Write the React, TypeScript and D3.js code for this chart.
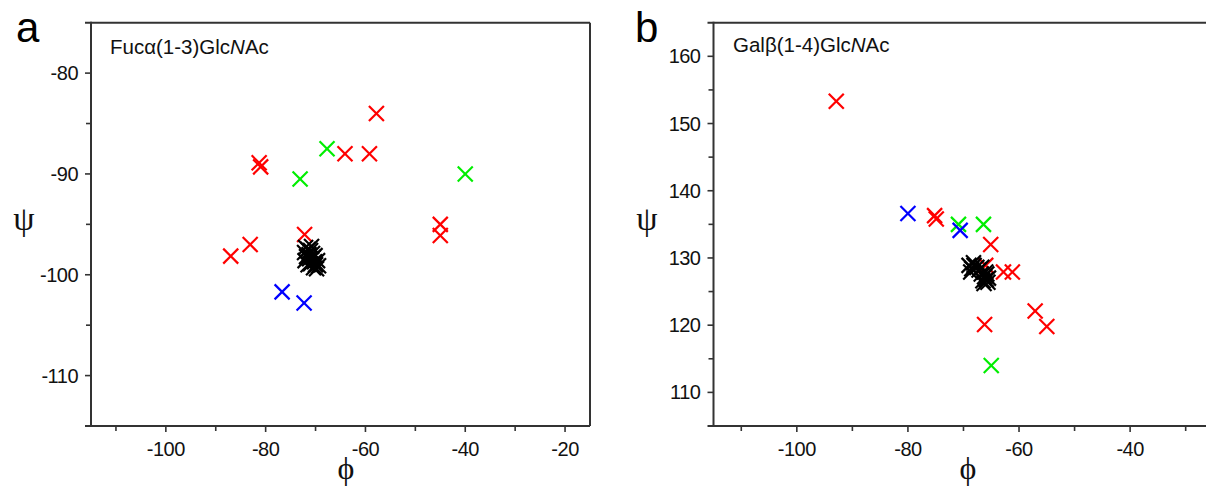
import React from "react";
import * as d3 from "d3";

// ---------- data: [phi, psi] ----------
const aRed: [number, number][] = [
  [-57.8, -84.0], [-64.1, -88.0], [-59.2, -88.0], [-81.3, -88.9], [-81.0, -89.3],
  [-72.2, -96.0], [-83.1, -97.0], [-87.0, -98.15], [-45.0, -95.0], [-45.0, -96.1],
];
const aGreen: [number, number][] = [[-67.7, -87.5], [-73.1, -90.5], [-40.0, -90.0]];
const aBlue: [number, number][] = [[-76.7, -101.7], [-72.3, -102.8]];
const aBlack: [number, number][] = [
  [-72.0, -97.3], [-71.5, -97.5], [-72.2, -97.8], [-71.0, -97.6], [-70.6, -97.9],
  [-71.8, -98.2], [-71.2, -98.4], [-70.5, -98.3], [-72.1, -98.6], [-70.2, -98.7],
  [-71.0, -98.9], [-70.0, -99.0], [-69.6, -98.6], [-69.4, -99.1], [-70.4, -99.3],
  [-69.8, -99.4], [-71.5, -99.0], [-70.8, -97.2], [-71.3, -98.0], [-70.1, -98.1],
];

const bRed: [number, number][] = [
  [-92.9, 153.3], [-75.2, 136.3], [-74.9, 135.8], [-65.1, 132.0], [-66.0, 128.9],
  [-62.8, 127.9], [-61.2, 127.9], [-66.2, 120.1], [-57.1, 122.1], [-55.0, 119.8],
];
const bGreen: [number, number][] = [[-70.9, 135.0], [-66.4, 135.0], [-65.0, 114.0]];
const bBlue: [number, number][] = [[-80.0, 136.6], [-70.6, 134.1]];
const bBlack: [number, number][] = [
  [-69.0, 128.9], [-68.5, 128.4], [-68.1, 128.9], [-68.7, 127.9], [-67.6, 128.6],
  [-68.2, 129.3], [-67.2, 128.2], [-66.8, 127.6], [-66.2, 127.2], [-65.8, 127.6],
  [-66.5, 126.6], [-65.9, 126.8], [-66.0, 127.9], [-65.5, 127.0], [-66.7, 128.6],
  [-66.3, 126.2], [-65.6, 126.4],
];

const aXTicks = [-100, -80, -60, -40, -20];
const aXMinor = [-110, -90, -70, -50, -30];
const aYTicks = [-80, -90, -100, -110];
const aYMinor = [-85, -95, -105];
const bXTicks = [-100, -80, -60, -40];
const bXMinor = [-110, -90, -70, -50, -30];
const bYTicks = [110, 120, 130, 140, 150, 160];
const bYMinor = [115, 125, 135, 145, 155];

const COLORS = { red: "#ff0000", green: "#00ee00", blue: "#0000ff", black: "#000000" };
const FRAME = "#333333";
const SANS = "Liberation Sans, Arial, Helvetica, sans-serif";
const SERIF = "Liberation Serif, DejaVu Serif, Times New Roman, serif";

type PanelProps = {
  xDomain: [number, number];
  xRange: [number, number];
  yDomain: [number, number];
  yRange: [number, number];
  clipRight: number;
  xTicks: number[];
  xMinor: number[];
  yTicks: number[];
  yMinor: number[];
  series: { pts: [number, number][]; color: string }[];
  letter: string;
  letterX: number;
  title: React.ReactNode;
  titleX: number;
  titleY: number;
  psiX: number;
  phiX: number;
  showRight: boolean;
};

function Cross({ x, y, color }: { x: number; y: number; color: string }) {
  const h = 7.5;
  return (
    <g stroke={color} strokeWidth={2.2}>
      <line x1={x - h} y1={y - h} x2={x + h} y2={y + h} />
      <line x1={x - h} y1={y + h} x2={x + h} y2={y - h} />
    </g>
  );
}

function Panel(p: PanelProps) {
  const x = d3.scaleLinear().domain(p.xDomain).range(p.xRange);
  const y = d3.scaleLinear().domain(p.yDomain).range(p.yRange);
  const [x0, x1] = p.xRange;
  const [y0, y1] = p.yRange; // y0 bottom, y1 top
  const right = Math.min(x1, p.clipRight);
  return (
    <g>
      <g stroke={FRAME} strokeWidth={2} fill="none">
        <line x1={x0 - 6} y1={y0} x2={right} y2={y0} />
        <line x1={x0} y1={y0} x2={x0} y2={y1 - 1} />
        <line x1={x0 - 6} y1={y1} x2={right} y2={y1} />
        {p.showRight && <line x1={x1} y1={y0} x2={x1} y2={y1} />}
      </g>
      <g stroke={FRAME} strokeWidth={1.6}>
        {p.xTicks.filter((t) => x(t) <= right).map((t) => (
          <line key={"xt" + t} x1={x(t)} x2={x(t)} y1={y0} y2={y0 + 6} />
        ))}
        {p.xMinor.filter((t) => x(t) <= right).map((t) => (
          <line key={"xm" + t} x1={x(t)} x2={x(t)} y1={y0} y2={y0 + 5} />
        ))}
        {p.yTicks.map((t) => (
          <line key={"yt" + t} x1={x0 - 6} x2={x0} y1={y(t)} y2={y(t)} />
        ))}
        {p.yMinor.map((t) => (
          <line key={"ym" + t} x1={x0 - 5} x2={x0} y1={y(t)} y2={y(t)} />
        ))}
      </g>
      <g fontFamily={SANS} fontSize={20} fill="#111">
        {p.xTicks.filter((t) => x(t) <= right).map((t) => (
          <text key={"xl" + t} x={x(t)} y={y0 + 29.5} textAnchor="middle" letterSpacing={-0.5}>
            {t}
          </text>
        ))}
        {p.yTicks.map((t) => (
          <text key={"yl" + t} x={x0 - 13} y={y(t) + 7} textAnchor="end" letterSpacing={-0.5}>
            {t}
          </text>
        ))}
      </g>
      {p.series.map((s, i) => (
        <g key={i}>
          {s.pts.map(([a, b], j) => (
            <Cross key={j} x={x(a)} y={y(b)} color={s.color} />
          ))}
        </g>
      ))}
      <text x={p.letterX} y={42} fontFamily={SANS} fontSize={42} fill="#000">
        {p.letter}
      </text>
      <text x={p.titleX} y={p.titleY} fontFamily={SANS} fontSize={20.5} fill="#111">
        {p.title}
      </text>
      <text x={p.psiX} y={230} fontFamily={SERIF} fontSize={34} textAnchor="middle" fill="#111">
        ψ
      </text>
      <text x={p.phiX} y={479} fontFamily={SERIF} fontSize={32} textAnchor="middle" fill="#111">
        ϕ
      </text>
    </g>
  );
}

export default function App() {
  const W = 1206;
  const H = 489;
  return (
    <svg
      width={W}
      height={H}
      viewBox={`0 0 ${W} ${H}`}
      style={{ position: "absolute", left: 0, top: 0, background: "#fff" }}
    >
      <rect width={W} height={H} fill="#fff" />
      <Panel
        xDomain={[-115, -15]}
        xRange={[91, 590]}
        yDomain={[-115, -75]}
        yRange={[426, 22.7]}
        clipRight={590}
        xTicks={aXTicks}
        xMinor={aXMinor}
        yTicks={aYTicks}
        yMinor={aYMinor}
        series={[
          { pts: aRed, color: COLORS.red },
          { pts: aGreen, color: COLORS.green },
          { pts: aBlue, color: COLORS.blue },
          { pts: aBlack, color: COLORS.black },
        ]}
        letter="a"
        letterX={16}
        title={
          <>
            Fucα(1-3)Glc<tspan fontStyle="italic">N</tspan>Ac
          </>
        }
        titleX={110}
        titleY={54}
        psiX={24}
        phiX={346}
        showRight={true}
      />
      <Panel
        xDomain={[-115, -15]}
        xRange={[713.5, 1269]}
        yDomain={[105, 165]}
        yRange={[426, 22.7]}
        clipRight={1206}
        xTicks={bXTicks}
        xMinor={bXMinor}
        yTicks={bYTicks}
        yMinor={bYMinor}
        series={[
          { pts: bRed, color: COLORS.red },
          { pts: bGreen, color: COLORS.green },
          { pts: bBlue, color: COLORS.blue },
          { pts: bBlack, color: COLORS.black },
        ]}
        letter="b"
        letterX={635}
        title={
          <>
            Galβ(1-4)Glc<tspan fontStyle="italic">N</tspan>Ac
          </>
        }
        titleX={733}
        titleY={52}
        psiX={647}
        phiX={968}
        showRight={false}
      />
    </svg>
  );
}
